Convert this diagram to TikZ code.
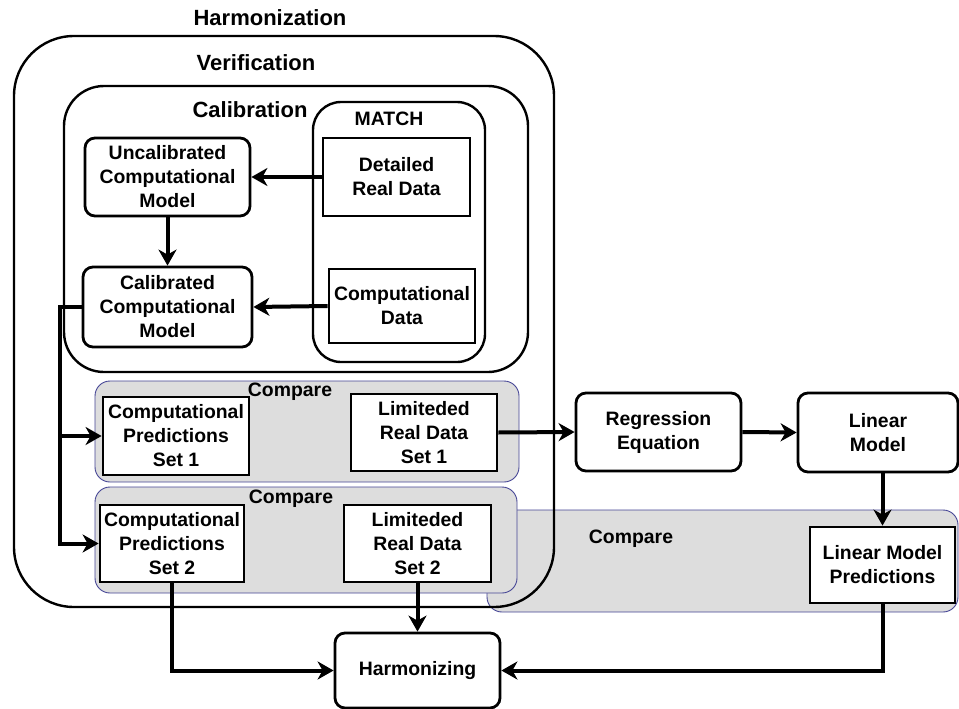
\documentclass[tikz,border=0pt]{standalone}
\usepackage{fontspec}
\setmainfont{Liberation Sans}
\usetikzlibrary{arrows.meta}
\definecolor{cmpfill}{RGB}{221,221,221}
\definecolor{cmpedge}{RGB}{70,70,150}
\begin{document}
\begin{tikzpicture}[x=1pt,y=-1pt,
 lbl/.style={font=\bfseries\fontsize{19.4}{24}\selectfont, align=center, inner sep=0pt},
 ttl/.style={font=\bfseries\fontsize{22}{26}\selectfont, inner sep=0pt},
 rbox/.style={lbl, draw, line width=2.8pt, rounded corners=10pt, fill=white},
 sbox/.style={lbl, draw, line width=2.8pt, fill=white},
 frame/.style={draw, line width=2.4pt},
 cmp/.style={draw=cmpedge, fill=cmpfill, line width=0.9pt, rounded corners=15pt},
 arr/.style={line width=4pt, -{Stealth[length=16pt,width=18pt,inset=5pt]}},
]
\useasboundingbox[fill=white] (0,0) rectangle (959,709);

% compare regions
\draw[cmp] (487,510) rectangle (958,612);
\draw[cmp] (95,381) rectangle (519,482);
\draw[cmp] (95,487) rectangle (517,593);

% frames
\draw[frame, rounded corners=60pt] (14,36) rectangle (554,607);
\draw[frame, rounded corners=40pt] (64,86) rectangle (528,372);
\draw[frame, rounded corners=28pt] (313,102) rectangle (485,362);

% titles
\node[ttl] (tharm) at (270,18) {Harmonization};
\node[ttl] (tver) at (256,63) {Verification};
\node[ttl] (tcal) at (250,110) {Calibration};
\node[lbl] (tmatch) at (389,119) {MATCH};
\node[lbl] (tcmp1) at (290,392) {Compare};
\node[lbl] (tcmp2) at (291,499) {Compare};
\node[lbl] (tcmp3) at (631,539) {Compare};

% boxes
\node[rbox, minimum width=165pt, minimum height=78pt] (uncal) at (167.5,177) {Uncalibrated\\Computational\\Model};
\node[sbox, minimum width=147pt, minimum height=78pt] (detailed) at (396.5,177) {Detailed\\Real Data};
\node[rbox, minimum width=169pt, minimum height=80pt] (cal) at (167.5,307) {Calibrated\\Computational\\Model};
\node[sbox, minimum width=146pt, minimum height=74pt] (compdata) at (402,306) {Computational\\Data};
\node[sbox, minimum width=146pt, minimum height=78pt] (cp1) at (176,436) {Computational\\Predictions\\Set 1};
\node[sbox, minimum width=146pt, minimum height=77pt] (l1) at (424,432.5) {Limiteded\\Real Data\\Set 1};
\node[sbox, minimum width=144pt, minimum height=77pt] (cp2) at (172,543.5) {Computational\\Predictions\\Set 2};
\node[sbox, minimum width=147pt, minimum height=77pt] (l2) at (417.5,543.5) {Limiteded\\Real Data\\Set 2};
\node[rbox, minimum width=165pt, minimum height=78pt] (reg) at (658.5,432) {Regression\\Equation};
\node[rbox, minimum width=160pt, minimum height=79pt] (lin) at (878,432.5) {Linear\\Model};
\node[sbox, minimum width=145pt, minimum height=76pt] (lmp) at (882.5,565) {Linear Model\\Predictions};
\node[rbox, minimum width=165pt, minimum height=75pt] (harm) at (417.5,670.5) {Harmonizing};

% connectors
\coordinate (trunk) at (60,0);
\draw[arr] (detailed.west) -- (uncal.east);
\draw[arr] (uncal.south) -- (cal.north);
\draw[arr] (compdata.west) -- (cal.east);
\draw[arr] (cal.west) -| (trunk |- cp2.west) -- (cp2.west);
\draw[arr] (trunk |- cp1.west) -- (cp1.west);
\draw[arr] (l1.east) -- (reg.west);
\draw[arr] (reg.east) -- (lin.west);
\draw[arr] (lin.south -| lmp.north) -- (lmp.north);
\draw[arr] (lmp.south) |- (harm.east);
\draw[arr] (cp2.south) |- (harm.west);
\draw[arr] (l2.south) -- (harm.north);
\end{tikzpicture}
\end{document}
